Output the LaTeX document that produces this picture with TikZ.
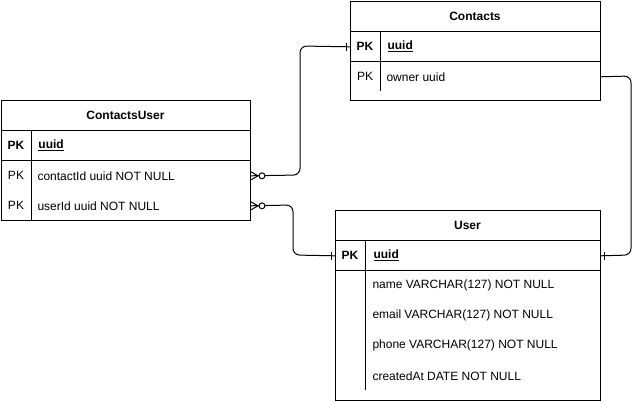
\documentclass[tikz,border=0pt]{standalone}
\usepackage{fontspec}
\setmainfont{Liberation Sans}
\begin{document}
\begin{tikzpicture}[x=0.75pt,y=-0.75pt,line width=0.75pt,
  box/.style={draw,anchor=north west,inner sep=0pt,outer sep=0pt},
  hdr/.style={font=\bfseries\fontsize{9}{11}\selectfont,inner sep=0pt,yshift=-0.6pt},
  txt/.style={font=\fontsize{9}{11}\selectfont,inner sep=0pt,anchor=west,yshift=-0.6pt},
  pkb/.style={font=\bfseries\fontsize{9}{11}\selectfont,inner sep=0pt,yshift=-0.6pt},
  pkn/.style={font=\fontsize{9}{11}\selectfont,inner sep=0pt,yshift=-0.6pt},
  link/.style={rounded corners=5pt},
]
\useasboundingbox (0,0) rectangle (639,401);

% ---------- Contacts ----------
\node[box,minimum width=187.5pt,minimum height=74.25pt] (ct) at (350,1) {};
\draw (350,31) -- (600,31) (350,61) -- (600,61) (380,31) -- (380,91);
\node[hdr] (ct-h) at (475,16) {Contacts};
\node[pkb] (ct-pk1) at (365,46) {PK};
\node[txt,font=\bfseries\fontsize{9}{11}\selectfont] (ct-r1) at (387,46) {\underline{uuid}};
\node[pkn] (ct-pk2) at (365,76) {PK};
\node[txt] (ct-r2) at (386,76) {owner uuid};

% ---------- ContactsUser ----------
\node[box,minimum width=186.75pt,minimum height=90pt] (cu) at (1,100) {};
\draw (1,130) -- (250,130) (1,160) -- (250,160) (31,130) -- (31,220);
\node[hdr] (cu-h) at (125.5,115) {ContactsUser};
\node[pkb] (cu-pk1) at (16,145) {PK};
\node[txt,font=\bfseries\fontsize{9}{11}\selectfont] (cu-r1) at (38,145) {\underline{uuid}};
\node[pkn] (cu-pk2) at (16,175) {PK};
\node[txt] (cu-r2) at (37,175) {contactId uuid NOT NULL};
\node[pkn] (cu-pk3) at (16,205) {PK};
\node[txt] (cu-r3) at (37,205) {userId uuid NOT NULL};

% ---------- User ----------
\node[box,minimum width=198.75pt,minimum height=142.5pt] (us) at (335,210) {};
\draw (335,240) -- (600,240) (335,270) -- (600,270) (365,240) -- (365,390);
\node[hdr] (us-h) at (467.5,225) {User};
\node[pkb] (us-pk1) at (350,255) {PK};
\node[txt,font=\bfseries\fontsize{9}{11}\selectfont] (us-r1) at (373,255) {\underline{uuid}};
\node[txt] (us-r2) at (372,285) {name VARCHAR(127) NOT NULL};
\node[txt] (us-r3) at (372,315) {email VARCHAR(127) NOT NULL};
\node[txt] (us-r4) at (372,345) {phone VARCHAR(127) NOT NULL};
\node[txt] (us-r5) at (372,375) {createdAt DATE NOT NULL};

% ---------- connector end points ----------
\coordinate (a1) at (cu.east |- cu-r2);
\coordinate (b1) at (ct.west |- ct-r1);
\coordinate (a2) at (cu.east |- cu-r3);
\coordinate (b2) at (us.west |- us-r1);
\coordinate (a3) at (ct.east |- ct-r2);
\coordinate (b3) at (us.east |- us-r1);

% ---------- connectors ----------
\draw[link] (a1) -- (300,175) -- (300,46) -- (b1);
\draw[link] (a2) -- (293,205) -- (293,255) -- (b2);
\draw[link] (a3) -- (631,76) -- (631,255) -- (b3);

% ---------- markers ----------
\foreach \p in {a1,a2}{
  \begin{scope}[shift={(\p)}]
    \draw (1,-4) -- (8,0) -- (1,4);
    \draw[fill=white] (12,0) circle[radius=2.2pt];
  \end{scope}
}
\begin{scope}[shift={(b1)}]\draw (-4,-4) -- (-4,4);\end{scope}
\begin{scope}[shift={(b2)}]\draw (-4,-4) -- (-4,4);\end{scope}
\begin{scope}[shift={(b3)}]\draw (4,-4) -- (4,4);\end{scope}
\end{tikzpicture}
\end{document}
